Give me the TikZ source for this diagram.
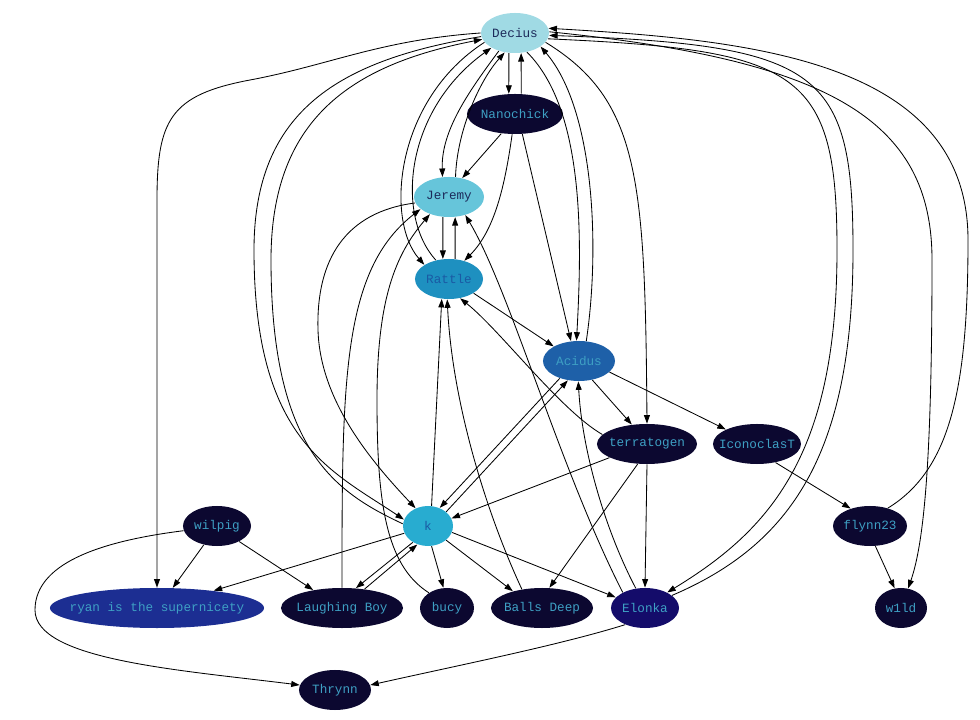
\documentclass[tikz,border=0pt]{standalone}
\usepackage{fontspec}
\setmonofont{Liberation Mono}
\usepackage{tikz}
\usetikzlibrary{shapes.geometric,arrows.meta}
\definecolor{cDecius}{RGB}{160,218,228}
\definecolor{cJeremy}{RGB}{102,197,218}
\definecolor{cRattle}{RGB}{30,144,192}
\definecolor{cKap}{RGB}{40,172,208}
\definecolor{cAcidus}{RGB}{30,96,168}
\definecolor{cRyan}{RGB}{28,46,146}
\definecolor{cElonka}{RGB}{20,12,106}
\definecolor{cDark}{RGB}{12,8,48}
\definecolor{tNavy}{RGB}{28,42,90}
\definecolor{tBlue}{RGB}{26,90,164}
\definecolor{tCyan}{RGB}{62,160,196}
\begin{document}
\begin{tikzpicture}[x=0.025cm, y=-0.025cm, line width=0.6pt,
    >={Triangle[length=6pt,width=4.2pt]},
    user/.style={ellipse, inner ysep=0pt, inner xsep=-0.35cm, minimum height=1cm,
      font=\ttfamily\fontsize{9}{10}\selectfont},
    dark/.style={user, fill=cDark, text=tCyan}]
         \useasboundingbox (0,0) rectangle (980,720);
         % people
         \node [user, fill=cDecius, text=tNavy, minimum width=1.7cm] (Dec) at (515,33) {Decius};
         \node [dark, minimum width=2.4cm] (Nan) at (515,114) {Nanochick};
         \node [user, fill=cJeremy, text=tNavy, minimum width=1.75cm] (Jer) at (449,197) {Jeremy};
         \node [user, fill=cRattle, text=tBlue, minimum width=1.7cm] (Rat) at (449,279) {Rattle};
         \node [user, fill=cAcidus, text=tCyan, minimum width=1.8cm] (Aci) at (579,361) {Acidus};
         \node [dark, minimum width=2.5cm] (ter) at (647,444) {terratogen};
         \node [dark, minimum width=2.2cm] (Ico) at (757,444) {IconoclasT};
         \node [user, fill=cKap, text=tBlue, minimum width=1.25cm] (kap) at (428,526) {k};
         \node [dark, minimum width=1.7cm] (wil) at (217,526) {wilpig};
         \node [dark, minimum width=1.85cm] (Fly) at (870,526) {flynn23};
         \node [user, fill=cRyan, text=tCyan, minimum width=5.35cm] (rya) at (157,608) {ryan is the supernicety};
         \node [dark, minimum width=3.05cm] (Lau) at (342,608) {Laughing Boy};
         \node [dark, minimum width=1.35cm] (bucy) at (447,608) {bucy};
         \node [dark, minimum width=2.55cm] (Bal) at (542,608) {Balls Deep};
         \node [user, fill=cElonka, text=tCyan, minimum width=1.7cm] (Elo) at (645,608) {Elonka};
         \node [dark, minimum width=1.3cm] (wld) at (901,608) {w1ld};
         \node [dark, minimum width=1.8cm] (Thr) at (335,690) {Thrynn};
         % Decius
         \draw [->] (Dec.253) -- (Nan.107);
         \draw [->] (Nan.73) -- (Dec.287);
         \draw [->] (Dec.228) .. controls (470,90) and (441,130) .. (Jer.108);
         \draw [->] (Jer.72) .. controls (457,130) and (480,80) .. (Dec.242);
         \draw [->] (Dec.197) .. controls (395,100) and (385,220) .. (Rat.150);
         \draw [->] (Rat.125) .. controls (395,215) and (405,110) .. (Dec.212);
         \draw [->] (Dec.302) .. controls (585,110) and (582,240) .. (Aci.97);
         \draw [->] (Aci.70) .. controls (600,250) and (595,110) .. (Dec.332);
         \draw [->] (Dec.343) .. controls (640,100) and (645,180) .. (ter.north);
         \draw [->] (Dec.350) .. controls (800,50) and (837,70) .. (837,250)
                    .. controls (837,455) and (770,530) .. (Elo.35);
         \draw [->] (Elo.25) .. controls (790,545) and (853,455) .. (853,250)
                    .. controls (853,70) and (820,45) .. (Dec.356);
         \draw [->] (Dec.2) .. controls (830,60) and (932,120) .. (932,260)
                    .. controls (932,450) and (925,540) .. (wld.70);
         \draw [->] (Fly.45) .. controls (950,470) and (968,390) .. (968,240)
                    .. controls (968,60) and (750,40) .. (Dec.8);
         \draw [->] (Dec.west) .. controls (380,40) and (330,65) .. (250,80)
                    .. controls (170,95) and (157,120) .. (157,200) -- (rya.north);
         \draw [->] (Dec.186) .. controls (340,60) and (254,110) .. (254,250)
                    .. controls (254,440) and (330,470) .. (kap.165);
         \draw [->] (kap.175) .. controls (335,492) and (271,450) .. (271,260)
                    .. controls (271,120) and (350,65) .. (Dec.191);
         % Nanochick, Jeremy, Rattle
         \draw [->] (Nan.235) -- (Jer.55);
         \draw [->] (Nan.262) .. controls (505,185) and (495,230) .. (Rat.50);
         \draw [->] (Nan.290) -- (Aci.112);
         \draw [->] (Jer.253) -- (Rat.107);
         \draw [->] (Rat.73) -- (Jer.287);
         \draw [->] (Jer.190) .. controls (345,212) and (316,260) .. (318,330)
                    .. controls (320,400) and (370,460) .. (kap.125);
         \draw [->] (Lau.90) .. controls (342,380) and (342,270) .. (Jer.203);
         \draw [->] (bucy.140) .. controls (385,565) and (377,500) .. (377,400)
                    .. controls (377,300) and (395,255) .. (Jer.222);
         \draw [->] (Elo.145) .. controls (560,470) and (510,290) .. (Jer.312);
         \draw [->] (Rat.330) -- (Aci.150);
         \draw [->] (kap.80) -- (Rat.250);
         \draw [->] (Bal.137) .. controls (485,510) and (452,400) .. (Rat.265);
         \draw [->] (ter.168) .. controls (560,410) and (500,330) .. (Rat.300);
         % Acidus, terratogen
         \draw [->] (Aci.305) -- (ter.128);
         \draw [->] (Aci.340) -- (Ico.155);
         \draw [->] (Aci.222) -- (kap.57);
         \draw [->] (kap.38) -- (Aci.240);
         \draw [->] (Elo.115) .. controls (605,530) and (582,450) .. (Aci.268);
         \draw [->] (ter.200) -- (kap.18);
         \draw [->] (ter.245) -- (Bal.70);
         \draw [->] (ter.270) -- (Elo.90);
         \draw [->] (Ico.315) -- (Fly.138);
         \draw [->] (Fly.285) -- (wld.108);
         % wilpig, k
         \draw [->] (wil.235) -- (rya.52);
         \draw [->] (wil.325) -- (Lau.148);
         \draw [->] (wil.188) .. controls (110,540) and (35,560) .. (35,610)
                    .. controls (35,660) and (180,670) .. (Thr.172);
         \draw [->] (kap.197) -- (rya.17);
         \draw [->] (kap.227) -- (Lau.55);
         \draw [->] (Lau.40) -- (kap.240);
         \draw [->] (kap.280) -- (bucy.100);
         \draw [->] (kap.322) -- (Bal.150);
         \draw [->] (kap.345) -- (Elo.160);
         \draw [->] (Elo.220) .. controls (560,645) and (460,665) .. (Thr.8);
\end{tikzpicture}
\end{document}
